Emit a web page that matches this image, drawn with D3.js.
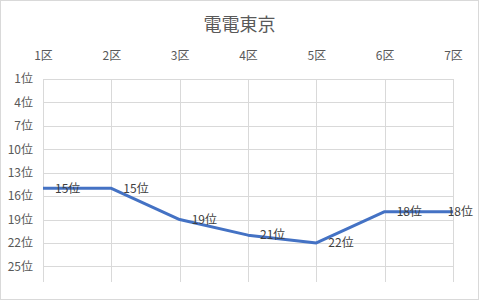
<!DOCTYPE html>
<html>
<head>
<meta charset="utf-8">
<script src="https://cdn.jsdelivr.net/npm/d3@7"></script>
<style>
  body { margin: 0; background: #fff; }
  text { font-family: "Noto Sans CJK JP", "Noto Sans", sans-serif; }
</style>
</head>
<body>
<div id="chart"></div>
<script>
// data
const categories = ["1区", "2区", "3区", "4区", "5区", "6区", "7区"];
const ranks = [15, 15, 19, 21, 22, 18, 18];
const rankTicks = [1, 4, 7, 10, 13, 16, 19, 22, 25];
const title = "電電東京";

const W = 479, H = 300;
const margin = {top: 79, right: 26, bottom: 18, left: 43};
const width = W - margin.left - margin.right,
      height = H - margin.top - margin.bottom;

const svg = d3.select("#chart")
              .append("svg")
              .attr("width", W)
              .attr("height", H);

// chart border
svg.append("rect")
   .attr("x", 0.5).attr("y", 0.5)
   .attr("width", W - 1).attr("height", H - 1)
   .attr("fill", "#fff")
   .attr("stroke", "#d9d9d9");

// title
svg.append("text")
   .attr("x", W / 2)
   .attr("y", 25)
   .attr("dy", "0.35em")
   .attr("text-anchor", "middle")
   .attr("fill", "#595959")
   .style("font-size", "18px")
   .text(title);

const g = svg.append("g")
             .attr("transform", `translate(${margin.left},${margin.top})`);

// x scale: points on the tick marks
const x = d3.scalePoint()
            .domain(categories)
            .range([0, width]);

// y scale reversed, 1位 at top
const y = d3.scaleLinear()
            .domain([1, 27])
            .range([0, height]);

// horizontal gridlines
g.append("g")
 .selectAll("line")
 .data(rankTicks)
 .join("line")
 .attr("x1", 0).attr("x2", width)
 .attr("y1", d => Math.round(y(d)) + 0.5)
 .attr("y2", d => Math.round(y(d)) + 0.5)
 .attr("stroke", "#d9d9d9");

// vertical gridlines
g.append("g")
 .selectAll("line")
 .data(categories)
 .join("line")
 .attr("x1", d => Math.round(x(d)) + 0.5)
 .attr("x2", d => Math.round(x(d)) + 0.5)
 .attr("y1", 0).attr("y2", height)
 .attr("stroke", "#d9d9d9");

// x axis on top
const xAxis = g.append("g")
               .call(d3.axisTop(x).tickSize(0).tickPadding(0));
xAxis.select(".domain").remove();
xAxis.selectAll("text")
     .attr("y", -19)
     .attr("dy", "0")
     .attr("fill", "#595959")
     .style("font-size", "12px")
     .style("font-family", "'Noto Sans CJK JP', sans-serif");

// y axis
const yAxis = g.append("g")
               .call(d3.axisLeft(y).tickValues(rankTicks).tickSize(0).tickPadding(10)
                        .tickFormat(d => d + "位"));
yAxis.select(".domain").remove();
yAxis.selectAll("text")
     .attr("fill", "#595959")
     .style("font-size", "12px")
     .style("font-family", "'Noto Sans CJK JP', sans-serif");

// line
const line = d3.line()
               .x((d, i) => x(categories[i]))
               .y(d => y(d));

g.append("path")
 .datum(ranks)
 .attr("d", line)
 .attr("fill", "none")
 .attr("stroke", "#4472c4")
 .attr("stroke-width", 3)
 .attr("stroke-linejoin", "round");

// data labels, right of the point, kept inside the chart area
const labels = g.append("g")
                .selectAll("text")
                .data(ranks)
                .join("text")
                .attr("y", d => y(d))
                .attr("dy", "0.35em")
                .attr("fill", "#404040")
                .style("font-size", "12px")
                .text(d => d + "位");

labels.attr("x", function (d, i) {
   const tw = this.getComputedTextLength();
   const px = x(categories[i]) + 12;
   return Math.min(px, W - margin.left - 6 - tw);
});
</script>
</body>
</html>
